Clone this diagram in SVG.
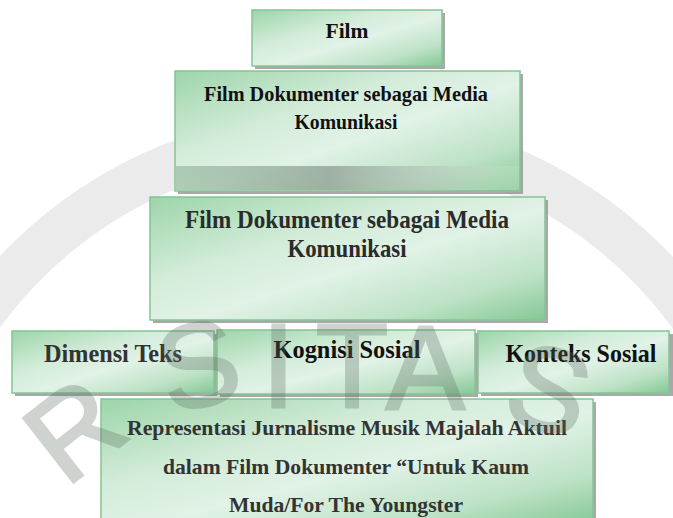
<svg xmlns="http://www.w3.org/2000/svg" width="673" height="518" viewBox="0 0 673 518">
<defs>
<linearGradient id="g" x1="0" y1="0" x2="1" y2="1">
<stop offset="0" stop-color="#9dd5aa"/>
<stop offset="0.35" stop-color="#d3ecd9"/>
<stop offset="0.55" stop-color="#e1f2e6"/>
<stop offset="0.8" stop-color="#bde2c6"/>
<stop offset="1" stop-color="#84c894"/>
</linearGradient>
<linearGradient id="band" x1="0" y1="0" x2="1" y2="0">
<stop offset="0" stop-color="#7fa88a" stop-opacity="0.5"/>
<stop offset="0.45" stop-color="#8e9d92" stop-opacity="0.75"/>
<stop offset="0.8" stop-color="#b9c9bd" stop-opacity="0.5"/>
<stop offset="1" stop-color="#d0e8d6" stop-opacity="0.3"/>
</linearGradient>
</defs>
<style>
.box{fill:url(#g);stroke:#84c494;stroke-width:1.5}
.sh{fill:#8c8c8c;opacity:.75}
.t{font-family:"Liberation Serif","Times New Roman",serif;font-weight:bold;text-anchor:middle}
.wm{font-family:"Liberation Sans",Arial,sans-serif;fill:#5f6f64;stroke:#5f6f64;stroke-width:3;opacity:.3}
</style>
<rect width="673" height="518" fill="#ffffff"/>
<g id="watermark-ring">
<circle cx="336" cy="573" r="439" fill="none" stroke="#ebebeb" stroke-width="46"/>
</g>
<g id="connectors"/>
<g id="node-film">
<rect class="sh" x="255" y="13" width="190" height="56"/>
<rect class="box" x="252" y="10" width="190" height="56"/>
<text class="t" x="347" y="38" font-size="21" fill="#111" textLength="43" lengthAdjust="spacingAndGlyphs">Film</text>
</g>
<g id="node-media1">
<rect class="sh" x="178" y="74" width="345" height="120"/>
<rect class="box" x="175" y="71" width="345" height="120"/>
<rect x="176" y="166" width="343" height="24" fill="url(#band)"/>
<text class="t" font-size="22" fill="#111"><tspan x="346" y="101" textLength="284" lengthAdjust="spacingAndGlyphs">Film  Dokumenter sebagai Media</tspan><tspan x="346" y="129" textLength="103" lengthAdjust="spacingAndGlyphs">Komunikasi</tspan></text>
</g>
<g id="node-media2">
<rect class="sh" x="153" y="200" width="395" height="123"/>
<rect class="box" x="150" y="197" width="395" height="123"/>
<text class="t" font-size="25" fill="#2b2b2b"><tspan x="347" y="228" textLength="324" lengthAdjust="spacingAndGlyphs">Film  Dokumenter sebagai Media</tspan><tspan x="347" y="257" textLength="119" lengthAdjust="spacingAndGlyphs">Komunikasi</tspan></text>
</g>
<g id="node-dimensi">
<rect class="sh" x="15" y="334" width="202" height="62"/>
<rect class="box" x="12" y="331" width="202" height="62"/>
<text class="t" x="113" y="362" font-size="25" fill="#333" textLength="138" lengthAdjust="spacingAndGlyphs">Dimensi Teks</text>
</g>
<g id="node-kognisi">
<rect class="sh" x="220" y="333" width="258" height="64"/>
<rect class="box" x="217" y="330" width="258" height="64"/>
<text class="t" x="347" y="358" font-size="25" fill="#111" textLength="147" lengthAdjust="spacingAndGlyphs">Kognisi Sosial</text>
</g>
<g id="node-konteks">
<rect class="sh" x="481" y="334" width="192" height="62"/>
<rect class="box" x="478" y="331" width="191" height="62"/>
<text class="t" x="581" y="362" font-size="25" fill="#111" textLength="151" lengthAdjust="spacingAndGlyphs">Konteks Sosial</text>
</g>
<g id="node-representasi">
<rect class="sh" x="104" y="402" width="492" height="125"/>
<rect class="box" x="101" y="399" width="492" height="125"/>
<text class="t" font-size="22" fill="#333"><tspan x="347" y="435" textLength="440" lengthAdjust="spacingAndGlyphs">Representasi Jurnalisme Musik Majalah  Aktuil</tspan><tspan x="346" y="474" textLength="366" lengthAdjust="spacingAndGlyphs">dalam Film Dokumenter “Untuk Kaum</tspan><tspan x="346" y="512" textLength="234" lengthAdjust="spacingAndGlyphs">Muda/For The Youngster</tspan></text>
</g>
<g id="watermark">
<text class="wm" font-size="118" x="66 170 262 316 386 500" y="488 414 407 407 409 418" rotate="-38 -14 0 0 0 16">RSITAS</text>
</g>
</svg>
